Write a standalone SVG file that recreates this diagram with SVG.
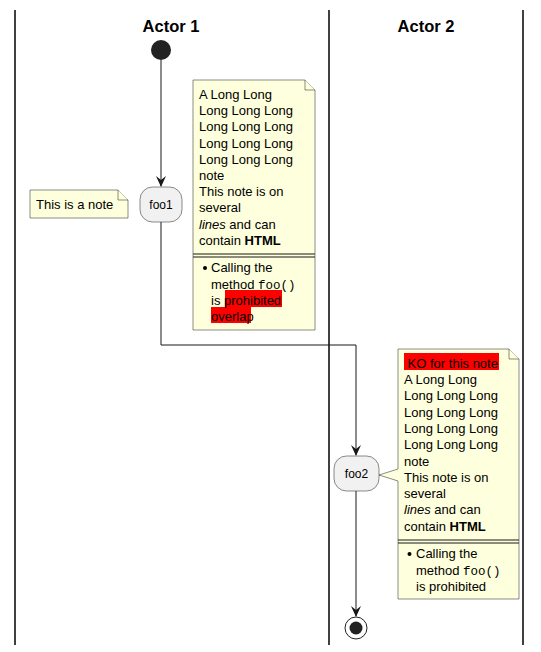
<svg xmlns="http://www.w3.org/2000/svg" width="541" height="652" viewBox="0 0 541 652">
<defs>
<style>
.lane{stroke:#000;stroke-width:1.5;fill:none}
.title{font-family:"Liberation Sans",Arial,sans-serif;font-size:16.5px;font-weight:bold;fill:#000}
.act{fill:#F1F1F1;stroke:#181818;stroke-width:0.5}
.at{font-family:"Liberation Sans",Arial,sans-serif;font-size:12px;fill:#000}
.note{fill:#FEFFDD;stroke:#181818;stroke-width:0.5}
.nt{font-family:"Liberation Sans",Arial,sans-serif;font-size:13px;fill:#000}
.mono{font-family:"Liberation Mono","Courier New",monospace;font-size:12.5px}
.edge{stroke:#181818;stroke-width:1;fill:none}
.hl{fill:#FF0000}
.head{fill:#181818}
</style>
</defs>
<rect width="541" height="652" fill="#fff"/>
<g id="lanes">
<line class="lane" x1="15" y1="10" x2="15" y2="645"/>
<line class="lane" x1="329" y1="10" x2="329" y2="645"/>
<line class="lane" x1="523" y1="10" x2="523" y2="645"/>
<text class="title" x="171" y="31.5" text-anchor="middle">Actor 1</text>
<text class="title" x="426" y="31.5" text-anchor="middle">Actor 2</text>
</g>
<g id="connectors">
<path class="edge" d="M161,60 L161,186"/>
<path class="head" d="M156,176 L161,187 L166,176 L161,180 Z"/>
<path class="edge" d="M161,222 L161,345 L356,345 L356,455"/>
<path class="head" d="M351,445 L356,456 L361,445 L356,449 Z"/>
<path class="edge" d="M356,491 L356,616"/>
<path class="head" d="M351,606 L356,617 L361,606 L356,610 Z"/>
</g>
<g id="start">
<circle cx="161" cy="50" r="10" fill="#222"/>
</g>
<g id="foo1">
<rect class="act" x="140" y="187" width="42" height="35" rx="12.5"/>
<text class="at" x="161" y="209" text-anchor="middle">foo1</text>
</g>
<g id="note0">
<path class="note" d="M30,190 L118,190 L128,200 L128,218 L30,218 Z"/>
<path class="note" d="M118,190 L118,200 L128,200"/>
<text class="nt" x="36" y="209">This is a note</text>
</g>
<g id="note1">
<path class="note" d="M193,80 L305,80 L315,90 L315,330 L193,330 Z"/>
<path class="note" d="M305,80 L305,90 L315,90"/>
<line x1="193" y1="254" x2="315" y2="254" stroke="#181818" stroke-width="1"/>
<line x1="193" y1="257" x2="315" y2="257" stroke="#181818" stroke-width="1"/>
<rect class="hl" x="225" y="290" width="57" height="17"/>
<rect class="hl" x="211" y="307" width="40" height="16"/>
<text class="nt" x="199" y="99">A Long Long</text>
<text class="nt" x="199" y="115.2">Long Long Long</text>
<text class="nt" x="199" y="131.4">Long Long Long</text>
<text class="nt" x="199" y="147.6">Long Long Long</text>
<text class="nt" x="199" y="163.8">Long Long Long</text>
<text class="nt" x="199" y="180">note</text>
<text class="nt" x="199" y="196.2">This note is on</text>
<text class="nt" x="199" y="212.4">several</text>
<text class="nt" x="199" y="228.6"><tspan font-style="italic">lines</tspan> and can</text>
<text class="nt" x="199" y="244.8">contain <tspan font-weight="bold">HTML</tspan></text>
<circle cx="205" cy="268" r="2" fill="#000"/>
<text class="nt" x="211" y="272">Calling the</text>
<text class="nt" x="211" y="288.5">method <tspan class="mono">foo()</tspan></text>
<text class="nt" x="211" y="304.5">is prohibited</text>
<text class="nt" x="211" y="320.5">overlap</text>
</g>
<g id="foo2">
<rect class="act" x="334" y="456" width="45" height="35" rx="12.5"/>
<text class="at" x="356.5" y="478" text-anchor="middle">foo2</text>
</g>
<g id="note2">
<path class="note" d="M398,349 L509,349 L519,359 L519,599 L398,599 L398,481 L379,475 L398,469 Z"/>
<path class="note" d="M509,349 L509,359 L519,359"/>
<line x1="398" y1="540" x2="519" y2="540" stroke="#181818" stroke-width="1"/>
<line x1="398" y1="543" x2="519" y2="543" stroke="#181818" stroke-width="1"/>
<rect class="hl" x="404" y="353" width="95" height="17"/>
<text class="nt" x="404" y="367.5" xml:space="preserve"> KO for this note</text>
<text class="nt" x="404" y="384">A Long Long</text>
<text class="nt" x="404" y="400.3">Long Long Long</text>
<text class="nt" x="404" y="416.6">Long Long Long</text>
<text class="nt" x="404" y="432.9">Long Long Long</text>
<text class="nt" x="404" y="449.2">Long Long Long</text>
<text class="nt" x="404" y="465.5">note</text>
<text class="nt" x="404" y="481.8">This note is on</text>
<text class="nt" x="404" y="498">several</text>
<text class="nt" x="404" y="514.3"><tspan font-style="italic">lines</tspan> and can</text>
<text class="nt" x="404" y="530.6">contain <tspan font-weight="bold">HTML</tspan></text>
<circle cx="409.5" cy="554" r="2" fill="#000"/>
<text class="nt" x="416" y="558">Calling the</text>
<text class="nt" x="416" y="574.5">method <tspan class="mono">foo()</tspan></text>
<text class="nt" x="416" y="591">is prohibited</text>
</g>
<g id="end">
<circle cx="356" cy="628" r="11" fill="none" stroke="#222" stroke-width="1"/>
<circle cx="356" cy="628" r="6.5" fill="#222"/>
</g>
</svg>
